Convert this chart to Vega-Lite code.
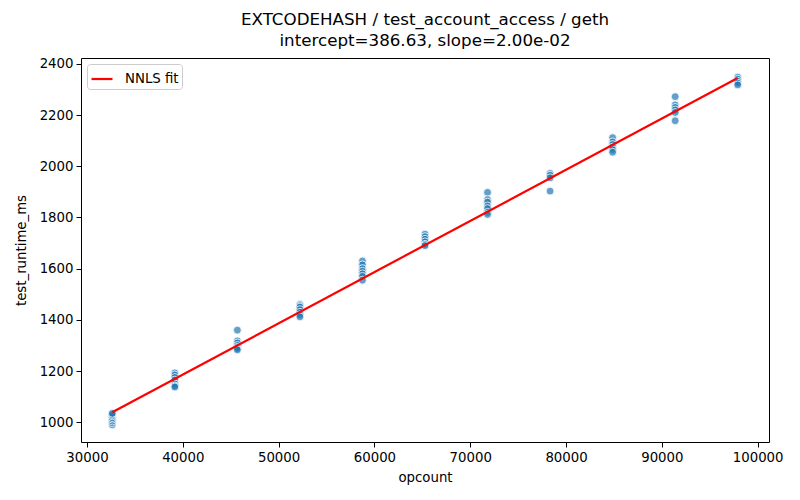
{
  "$schema": "https://vega.github.io/schema/vega-lite/v6.json",
  "autosize": "none",
  "width": 688,
  "height": 384,
  "padding": {"left": 81, "top": 58, "right": 31, "bottom": 58},
  "background": "white",
  "title": {
    "text": ["EXTCODEHASH / test_account_access / geth", "intercept=386.63, slope=2.00e-02"],
    "font": "DejaVu Sans",
    "fontSize": 16.7,
    "fontWeight": "normal",
    "lineHeight": 21,
    "color": "black",
    "offset": 7,
    "anchor": "middle"
  },
  "config": {
    "font": "DejaVu Sans",
    "view": {"stroke": "black", "strokeWidth": 1},
    "axis": {
      "grid": false,
      "domain": false,
      "labelFont": "DejaVu Sans",
      "labelFontSize": 13.3,
      "labelColor": "black",
      "titleFont": "DejaVu Sans",
      "titleFontSize": 13.3,
      "titleFontWeight": "normal",
      "titleColor": "black",
      "tickColor": "black",
      "tickSize": 5,
      "labelPadding": 3
    }
  },
  "datasets": {
    "pts": [
      {"opcount": 32640, "test_runtime_ms": 990},
      {"opcount": 32640, "test_runtime_ms": 998},
      {"opcount": 32640, "test_runtime_ms": 1005},
      {"opcount": 32640, "test_runtime_ms": 1012},
      {"opcount": 32640, "test_runtime_ms": 1018},
      {"opcount": 32640, "test_runtime_ms": 1025},
      {"opcount": 32640, "test_runtime_ms": 1030},
      {"opcount": 32640, "test_runtime_ms": 1035},
      {"opcount": 39168, "test_runtime_ms": 1193},
      {"opcount": 39168, "test_runtime_ms": 1185},
      {"opcount": 39168, "test_runtime_ms": 1175},
      {"opcount": 39168, "test_runtime_ms": 1165},
      {"opcount": 39168, "test_runtime_ms": 1150},
      {"opcount": 39168, "test_runtime_ms": 1142},
      {"opcount": 39168, "test_runtime_ms": 1138},
      {"opcount": 45696, "test_runtime_ms": 1360},
      {"opcount": 45696, "test_runtime_ms": 1318},
      {"opcount": 45696, "test_runtime_ms": 1310},
      {"opcount": 45696, "test_runtime_ms": 1300},
      {"opcount": 45696, "test_runtime_ms": 1293},
      {"opcount": 45696, "test_runtime_ms": 1288},
      {"opcount": 45696, "test_runtime_ms": 1283},
      {"opcount": 52224, "test_runtime_ms": 1460},
      {"opcount": 52224, "test_runtime_ms": 1455},
      {"opcount": 52224, "test_runtime_ms": 1450},
      {"opcount": 52224, "test_runtime_ms": 1440},
      {"opcount": 52224, "test_runtime_ms": 1430},
      {"opcount": 52224, "test_runtime_ms": 1420},
      {"opcount": 52224, "test_runtime_ms": 1412},
      {"opcount": 58752, "test_runtime_ms": 1630},
      {"opcount": 58752, "test_runtime_ms": 1615},
      {"opcount": 58752, "test_runtime_ms": 1600},
      {"opcount": 58752, "test_runtime_ms": 1590},
      {"opcount": 58752, "test_runtime_ms": 1580},
      {"opcount": 58752, "test_runtime_ms": 1570},
      {"opcount": 58752, "test_runtime_ms": 1555},
      {"opcount": 65280, "test_runtime_ms": 1735},
      {"opcount": 65280, "test_runtime_ms": 1725},
      {"opcount": 65280, "test_runtime_ms": 1715},
      {"opcount": 65280, "test_runtime_ms": 1705},
      {"opcount": 65280, "test_runtime_ms": 1695},
      {"opcount": 65280, "test_runtime_ms": 1690},
      {"opcount": 71808, "test_runtime_ms": 1898},
      {"opcount": 71808, "test_runtime_ms": 1870},
      {"opcount": 71808, "test_runtime_ms": 1860},
      {"opcount": 71808, "test_runtime_ms": 1845},
      {"opcount": 71808, "test_runtime_ms": 1835},
      {"opcount": 71808, "test_runtime_ms": 1820},
      {"opcount": 71808, "test_runtime_ms": 1812},
      {"opcount": 78336, "test_runtime_ms": 1972},
      {"opcount": 78336, "test_runtime_ms": 1965},
      {"opcount": 78336, "test_runtime_ms": 1955},
      {"opcount": 78336, "test_runtime_ms": 1903},
      {"opcount": 84864, "test_runtime_ms": 2112},
      {"opcount": 84864, "test_runtime_ms": 2095},
      {"opcount": 84864, "test_runtime_ms": 2085},
      {"opcount": 84864, "test_runtime_ms": 2075},
      {"opcount": 84864, "test_runtime_ms": 2065},
      {"opcount": 84864, "test_runtime_ms": 2055},
      {"opcount": 91392, "test_runtime_ms": 2272},
      {"opcount": 91392, "test_runtime_ms": 2240},
      {"opcount": 91392, "test_runtime_ms": 2230},
      {"opcount": 91392, "test_runtime_ms": 2220},
      {"opcount": 91392, "test_runtime_ms": 2210},
      {"opcount": 91392, "test_runtime_ms": 2178},
      {"opcount": 97920, "test_runtime_ms": 2348},
      {"opcount": 97920, "test_runtime_ms": 2340},
      {"opcount": 97920, "test_runtime_ms": 2332},
      {"opcount": 97920, "test_runtime_ms": 2325},
      {"opcount": 97920, "test_runtime_ms": 2318}
    ],
    "fit": [
      {"opcount": 32640, "test_runtime_ms": 1039.43, "series": "NNLS fit"},
      {"opcount": 97920, "test_runtime_ms": 2345.03, "series": "NNLS fit"}
    ]
  },
  "encoding": {
    "x": {
      "field": "opcount",
      "type": "quantitative",
      "title": "opcount",
      "scale": {"domain": [29376, 101184], "nice": false, "zero": false},
      "axis": {"values": [30000, 40000, 50000, 60000, 70000, 80000, 90000, 100000], "format": "d", "titlePadding": 7}
    },
    "y": {
      "field": "test_runtime_ms",
      "type": "quantitative",
      "title": "test_runtime_ms",
      "scale": {"domain": [923, 2423], "nice": false, "zero": false},
      "axis": {"values": [1000, 1200, 1400, 1600, 1800, 2000, 2200, 2400], "format": "d", "titlePadding": 11}
    }
  },
  "layer": [
    {
      "data": {"name": "pts"},
      "mark": {"type": "point", "filled": true, "shape": "circle", "size": 62, "color": "#1f77b4", "fillOpacity": 0.7, "stroke": "white", "strokeWidth": 0.8, "strokeOpacity": 1}
    },
    {
      "data": {"name": "fit"},
      "mark": {"type": "line", "strokeWidth": 2.2},
      "encoding": {
        "color": {
          "field": "series",
          "type": "nominal",
          "scale": {"domain": ["NNLS fit"], "range": ["red"]},
          "legend": {
            "title": null,
            "orient": "top-left",
            "offset": 6,
            "symbolType": "stroke",
            "symbolStrokeWidth": 2.2,
            "symbolSize": 441,
            "labelFontSize": 13.3,
            "labelOffset": 11,
            "labelColor": "black",
            "labelFont": "DejaVu Sans",
            "fillColor": "white",
            "strokeColor": "#cccccc",
            "cornerRadius": 3,
            "padding": 3
          }
        }
      }
    }
  ]
}
